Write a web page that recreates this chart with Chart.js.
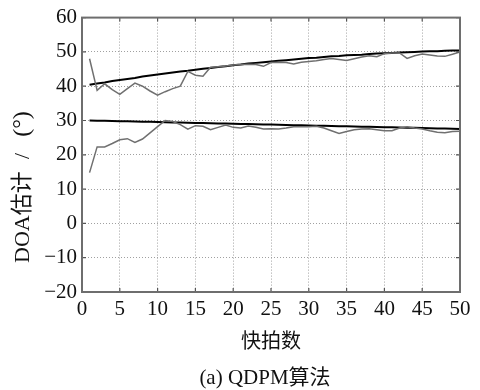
<!DOCTYPE html>
<html>
<head>
<meta charset="utf-8">
<script src="https://cdn.jsdelivr.net/npm/chart.js@4/dist/chart.umd.min.js"></script>
<style>
  html, body { margin: 0; padding: 0; background: #fff; }
  #wrap { width: 480px; height: 390px; }
</style>
</head>
<body>
<div id="wrap"><canvas id="chart" width="480" height="390"></canvas></div>
<script>
// snapshot index (x axis)
var snapshots = [1, 2, 3, 4, 5, 6, 7, 8, 9, 10, 11, 12, 13, 14, 15, 16, 17, 18, 19, 20,
    21, 22, 23, 24, 25, 26, 27, 28, 29, 30, 31, 32, 33, 34, 35, 36, 37, 38, 39, 40,
    41, 42, 43, 44, 45, 46, 47, 48, 49, 50];

// true DOA of the two sources
var true_1 = [40.4, 40.8, 41.1, 41.5, 41.8, 42.1, 42.4, 42.8, 43.1, 43.4,
    43.7, 44.0, 44.3, 44.5, 44.8, 45.1, 45.3, 45.6, 45.8, 46.1,
    46.3, 46.6, 46.8, 47.0, 47.2, 47.4, 47.6, 47.8, 48.0, 48.2,
    48.3, 48.5, 48.7, 48.8, 49.0, 49.1, 49.2, 49.4, 49.5, 49.6,
    49.7, 49.8, 49.9, 50.0, 50.1, 50.2, 50.2, 50.3, 50.4, 50.4];
var true_2 = [30.0, 29.95, 29.9, 29.85, 29.8, 29.75, 29.7, 29.65, 29.6, 29.55,
    29.5, 29.45, 29.4, 29.35, 29.3, 29.25, 29.2, 29.15, 29.1, 29.05,
    29.0, 28.95, 28.9, 28.85, 28.8, 28.75, 28.7, 28.65, 28.6, 28.55,
    28.5, 28.45, 28.4, 28.35, 28.3, 28.25, 28.2, 28.15, 28.1, 28.05,
    28.0, 27.95, 27.9, 27.85, 27.8, 27.75, 27.7, 27.65, 27.6, 27.55];

// QDPM estimates
var est_1 = [48.0, 38.8, 40.7, 39.0, 37.6, 39.3, 40.9, 40.0, 38.6, 37.4,
    38.4, 39.3, 40.0, 44.3, 43.2, 42.9, 45.5, 45.7, 45.9, 46.2,
    46.3, 46.4, 46.3, 45.8, 46.9, 47.0, 46.9, 46.5, 47.0, 47.2,
    47.4, 47.8, 48.1, 47.8, 47.5, 48.0, 48.5, 48.9, 48.6, 49.5,
    49.7, 49.7, 48.1, 48.9, 49.4, 49.1, 48.8, 48.7, 49.3, 50.0];
var est_2 = [14.8, 22.3, 22.3, 23.3, 24.4, 24.7, 23.6, 24.6, 26.4, 28.2,
    30.0, 29.7, 28.8, 27.5, 28.5, 28.3, 27.3, 28.0, 28.7, 28.0,
    27.8, 28.4, 28.0, 27.5, 27.6, 27.5, 27.8, 28.2, 28.2, 28.2,
    28.3, 27.8, 27.0, 26.2, 26.8, 27.3, 27.5, 27.6, 27.3, 27.0,
    27.0, 27.8, 28.2, 27.8, 27.5, 27.0, 26.6, 26.4, 26.8, 26.9];

var x_ticks = [0, 5, 10, 15, 20, 25, 30, 35, 40, 45, 50];
var y_ticks = [-20, -10, 0, 10, 20, 30, 40, 50, 60];

var x_title = "快拍数";
// y label drawn in three pieces so the spacing can be set by hand
var y_title_parts = ["DOA估计", "/", "(°)"];
var caption = "(a) QDPM算法";

var serif = "'Liberation Serif', 'Noto Sans CJK SC', serif";

function points(vals) {
    return vals.map(function(v, i) { return {x: snapshots[i], y: v}; });
}

function series(vals, color, width) {
    return {
        data: points(vals),
        borderColor: color,
        borderWidth: width,
        pointRadius: 0,
        fill: false,
        tension: 0
    };
}

// box around the axes, inward tick marks, rotated y label and caption
var frame_plugin = {
    id: "frame",
    afterDraw: function(chart) {
        var ctx = chart.ctx;
        var a = chart.chartArea;
        var sx = chart.scales.x, sy = chart.scales.y;
        ctx.save();
        ctx.strokeStyle = "#555";
        ctx.lineWidth = 1.2;
        ctx.beginPath();
        x_ticks.forEach(function(t) {
            var px = sx.getPixelForValue(t);
            ctx.moveTo(px, a.bottom); ctx.lineTo(px, a.bottom - 4);
            ctx.moveTo(px, a.top); ctx.lineTo(px, a.top + 4);
        });
        y_ticks.forEach(function(t) {
            var py = sy.getPixelForValue(t);
            ctx.moveTo(a.left, py); ctx.lineTo(a.left + 4, py);
            ctx.moveTo(a.right, py); ctx.lineTo(a.right - 4, py);
        });
        ctx.stroke();

        ctx.strokeStyle = "#6e6e6e";
        ctx.lineWidth = 2;
        ctx.strokeRect(a.left, a.top, a.right - a.left, a.bottom - a.top);

        ctx.fillStyle = "#111";
        ctx.font = "21px " + serif;
        ctx.textAlign = "center";
        ctx.textBaseline = "middle";
        ctx.fillText(caption, 265, 378);

        // rotated y label, read bottom to top
        ctx.translate(23, 0);
        ctx.rotate(-Math.PI / 2);
        ctx.textAlign = "left";
        ctx.font = "22px " + serif;
        ctx.fillText(y_title_parts[0], -263, 0);
        ctx.textAlign = "center";
        ctx.fillText(y_title_parts[1], -156, 0);
        ctx.font = "24px " + serif;
        ctx.fillText(y_title_parts[2], -124, 0);
        ctx.restore();
    }
};

var chart = new Chart(document.getElementById("chart"), {
    type: "line",
    data: {
        datasets: [
            series(est_1, "#707070", 1.5),
            series(est_2, "#707070", 1.5),
            series(true_1, "#000", 2),
            series(true_2, "#000", 2)
        ]
    },
    options: {
        responsive: false,
        animation: false,
        layout: { padding: { left: 0, right: 20, top: 14, bottom: 0 } },
        plugins: {
            legend: { display: false },
            tooltip: { enabled: false }
        },
        scales: {
            x: {
                type: "linear",
                min: 0,
                max: 50,
                afterFit: function(scale) { scale.height = 98; },
                afterBuildTicks: function(scale) {
                    scale.ticks = x_ticks.map(function(v) { return {value: v}; });
                },
                grid: { color: "#a0a0a0", lineWidth: 1, drawTicks: false },
                border: { display: false, dash: [1, 2] },
                ticks: {
                    color: "#111",
                    padding: 5,
                    maxRotation: 0,
                    font: { family: serif, size: 21 }
                },
                title: {
                    display: true,
                    text: x_title,
                    color: "#111",
                    font: { family: serif, size: 20 },
                    padding: { top: 0, bottom: 35 }
                }
            },
            y: {
                min: -20,
                max: 60,
                afterFit: function(scale) { scale.width = 82; },
                afterBuildTicks: function(scale) {
                    scale.ticks = y_ticks.map(function(v) { return {value: v}; });
                },
                grid: { color: "#a0a0a0", lineWidth: 1, drawTicks: false },
                border: { display: false, dash: [1, 2] },
                ticks: {
                    color: "#111",
                    padding: 5,
                    font: { family: serif, size: 21 },
                    callback: function(v) { return String(v).replace("-", "\u2212"); }
                }
            }
        }
    },
    plugins: [frame_plugin]
});
</script>
</body>
</html>
